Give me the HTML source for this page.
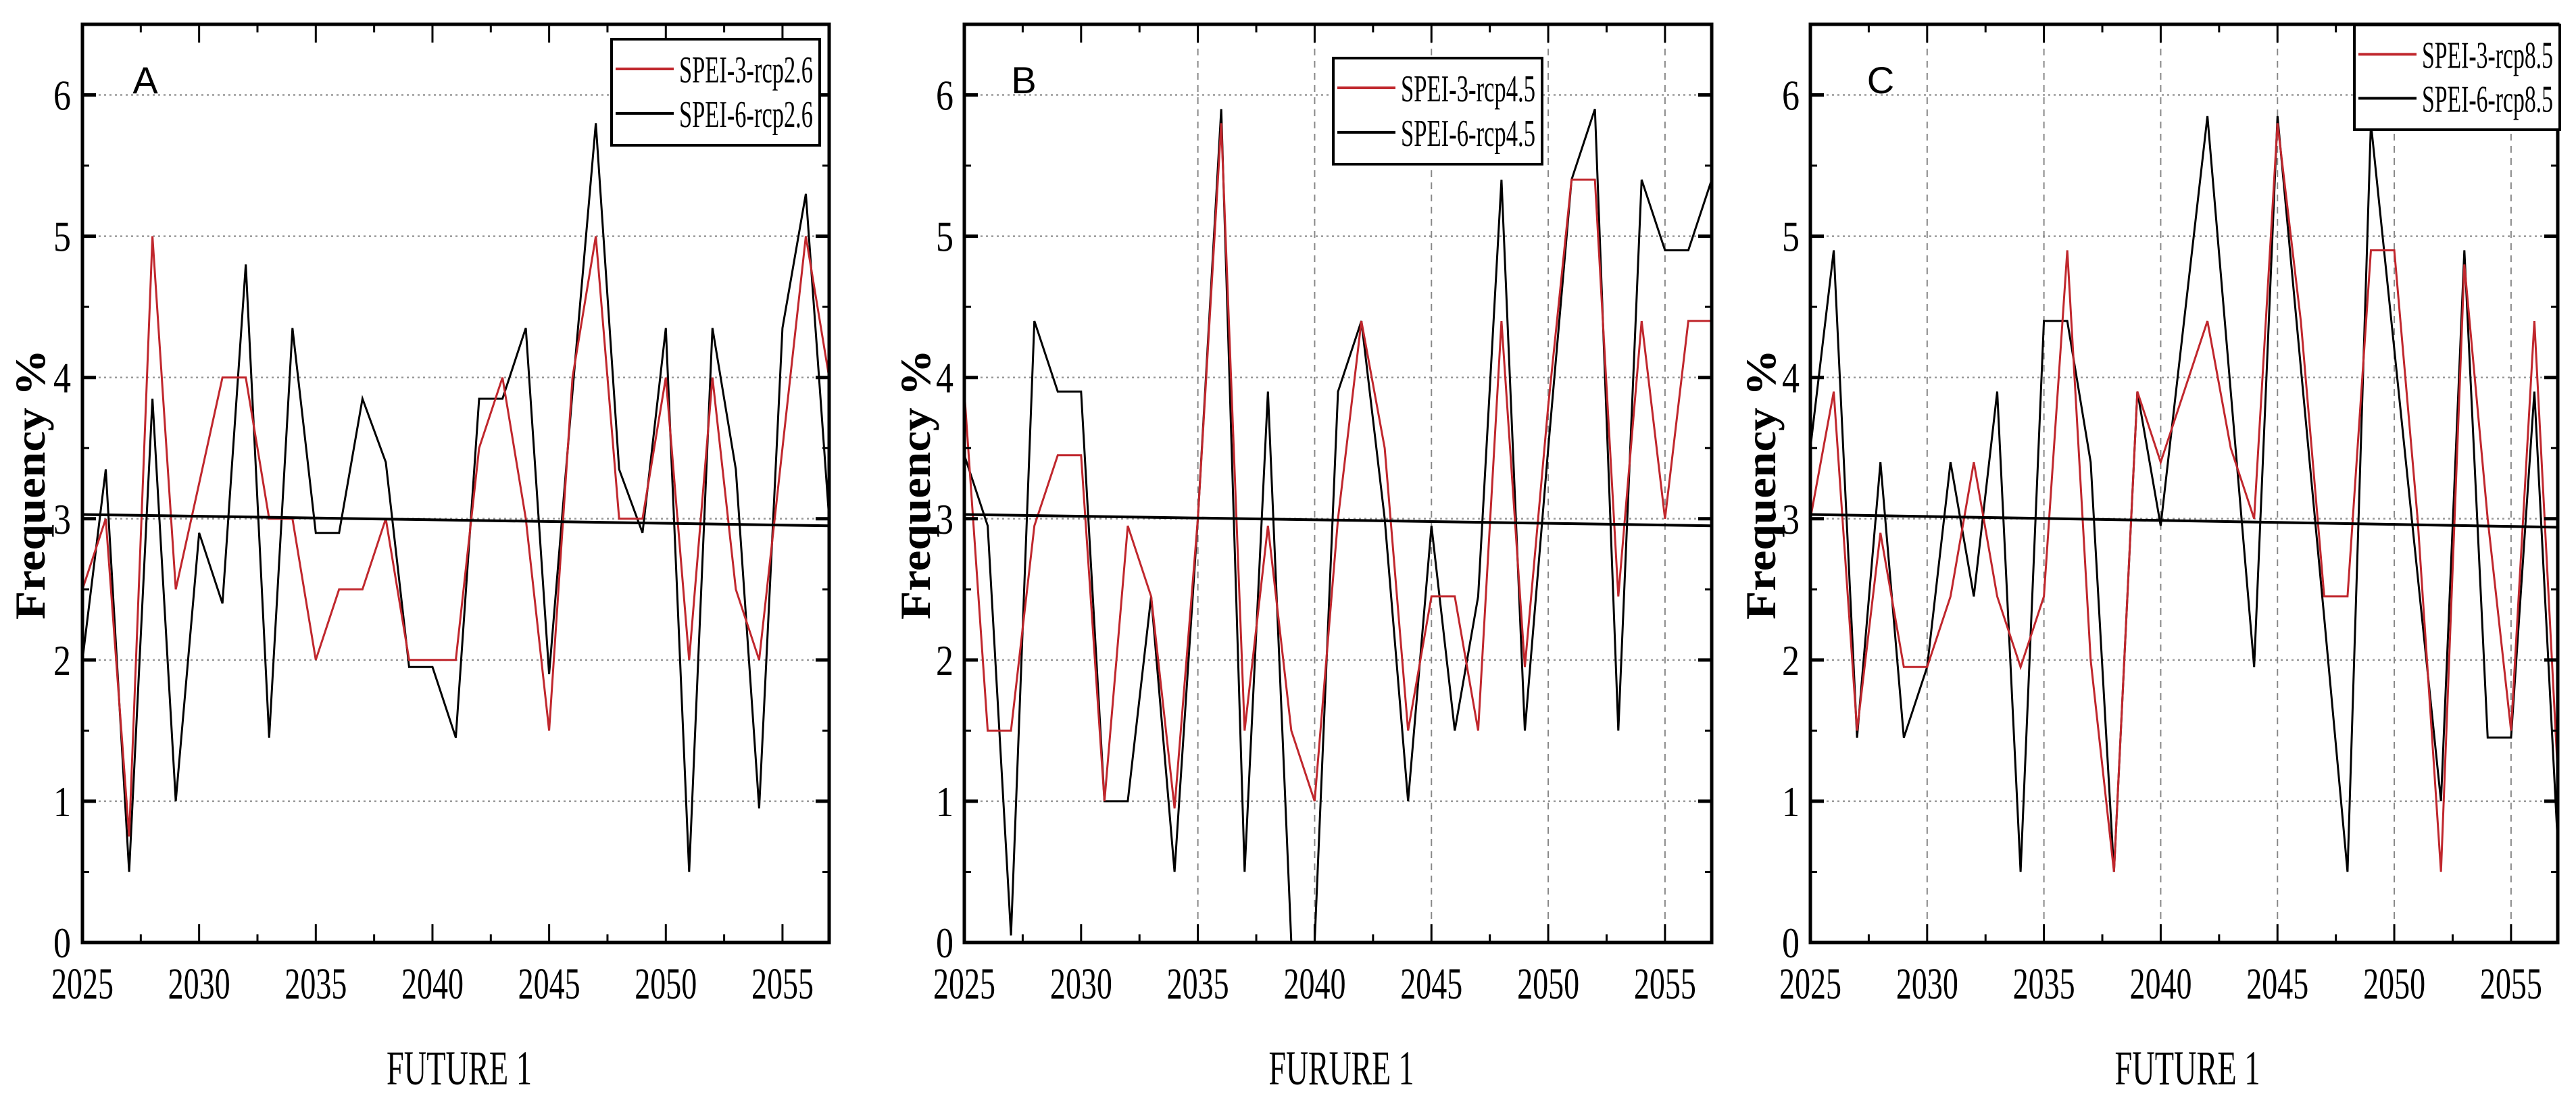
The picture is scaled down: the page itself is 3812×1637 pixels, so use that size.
<!DOCTYPE html>
<html><head><meta charset="utf-8">
<style>
html,body{margin:0;padding:0;background:#fff;}
svg{display:block;}
text{font-family:"Liberation Serif",serif;fill:#000;}
</style></head>
<body>
<svg id="chart" width="3812" height="1637" viewBox="0 0 3812 1637" xmlns="http://www.w3.org/2000/svg"></svg>
<script>
// ---- data ----
const years = [2025,2026,2027,2028,2029,2030,2031,2032,2033,2034,2035,2036,2037,2038,2039,2040,2041,2042,2043,2044,2045,2046,2047,2048,2049,2050,2051,2052,2053,2054,2055,2056,2057];
const xTicks = [2025,2030,2035,2040,2045,2050,2055];
const yTicks = [0,1,2,3,4,5,6];
const panelLetters = ["A","B","C"];
const xTitles = ["FUTURE 1","FURURE 1","FUTURE 1"];
const legend3 = ["SPEI-3-rcp2.6","SPEI-3-rcp4.5","SPEI-3-rcp8.5"];
const legend6 = ["SPEI-6-rcp2.6","SPEI-6-rcp4.5","SPEI-6-rcp8.5"];
const spei3A = [2.5,3.0,0.75,5.0,2.5,3.25,4.0,4.0,3.0,3.0,2.0,2.5,2.5,3.0,2.0,2.0,2.0,3.5,4.0,3.0,1.5,4.0,5.0,3.0,3.0,4.0,2.0,4.0,2.5,2.0,3.5,5.0,4.0];
const spei6A = [2.0,3.35,0.5,3.85,1.0,2.9,2.4,4.8,1.45,4.35,2.9,2.9,3.85,3.4,1.95,1.95,1.45,3.85,3.85,4.35,1.9,3.9,5.8,3.35,2.9,4.35,0.5,4.35,3.35,0.95,4.35,5.3,3.0];
const spei3B = [3.9,1.5,1.5,2.95,3.45,3.45,1.0,2.95,2.45,0.95,3.0,5.8,1.5,2.95,1.5,1.0,3.0,4.4,3.5,1.5,2.45,2.45,1.5,4.4,1.95,3.8,5.4,5.4,2.45,4.4,3.0,4.4,4.4];
const spei6B = [3.45,2.95,0.05,4.4,3.9,3.9,1.0,1.0,2.45,0.5,3.0,5.9,0.5,3.9,0.0,0.0,3.9,4.4,3.0,1.0,2.95,1.5,2.45,5.4,1.5,3.5,5.4,5.9,1.5,5.4,4.9,4.9,5.4];
const spei3C = [3.0,3.9,1.5,2.9,1.95,1.95,2.45,3.4,2.45,1.95,2.45,4.9,2.0,0.5,3.9,3.4,3.9,4.4,3.5,3.0,5.8,4.4,2.45,2.45,4.9,4.9,3.0,0.5,4.8,3.0,1.5,4.4,1.2];
const spei6C = [3.5,4.9,1.45,3.4,1.45,1.95,3.4,2.45,3.9,0.5,4.4,4.4,3.4,0.5,3.9,2.95,4.4,5.85,3.9,1.95,5.85,4.07,2.3,0.5,5.8,4.2,2.6,1.0,4.9,1.45,1.45,3.9,0.7];
const trendStart = [3.03,3.03,3.03];
const trendEnd = [2.95,2.95,2.94];

const NS="http://www.w3.org/2000/svg";
const svg=document.getElementById('chart');
function mk(tag,attrs,parent){const e=document.createElementNS(NS,tag);for(const k in attrs)e.setAttribute(k,attrs[k]);(parent||svg).appendChild(e);return e;}

const panels=[
 {L:122,R:1227,s3:spei3A,s6:spei6A,vgrid:[],legend:[905,58,1213,215],letterX:215,ylabX:44,ytickX:92},
 {L:1427,R:2533,s3:spei3B,s6:spei6B,vgrid:[2035,2040,2045,2050,2055],legend:[1973,86,2282,243],letterX:1515,ylabX:1354,ytickX:1398},
 {L:2679,R:3785,s3:spei3C,s6:spei6C,vgrid:[2030,2035,2040,2045,2050,2055],legend:[3484,37,3788,192],letterX:2783,ylabX:2605,ytickX:2650}
];
const T=36,B=1395,yMax=6.5,xMin=2025,xMax=2057;

panels.forEach((p,pi)=>{
 const g=mk('g',{});
 
 
 const xs=v=>p.L+(v-xMin)/(xMax-xMin)*(p.R-p.L);
 const ys=v=>B-v/yMax*(B-T);
 // horizontal grid
 for(let v=1;v<=6;v++){
  const l=mk('line',{x1:p.L,x2:p.R,y1:ys(v),y2:ys(v),stroke:'#999','stroke-width':2.5,'stroke-dasharray':'3 5'},g);
  
  
 }
 p.vgrid.forEach(v=>{
  const l=mk('line',{x1:xs(v),x2:xs(v),y1:T,y2:B,stroke:'#888','stroke-width':2,'stroke-dasharray':'10 8'},g);
  
  
 });
 // series
 const path=arr=>arr.map((v,i)=>(i?'L':'M')+xs(years[i]).toFixed(1)+' '+ys(v).toFixed(1)).join(' ');
 const s6=mk('path',{d:path(p.s6),fill:'none',stroke:'#000','stroke-width':3,'stroke-linejoin':'miter'},g);
 
 
 const s3=mk('path',{d:path(p.s3),fill:'none',stroke:'#c0272d','stroke-width':3,'stroke-linejoin':'miter'},g);
 
 
 const tr=mk('line',{x1:p.L,x2:p.R,y1:ys(trendStart[pi]),y2:ys(trendEnd[pi]),stroke:'#000','stroke-width':4},g);
 
 
 // axes frame
 const fr=mk('rect',{x:p.L,y:T,width:p.R-p.L,height:B-T,fill:'none',stroke:'#000','stroke-width':5},g);
 
 
 // x ticks
 for(let v=2025;v<=2057;v+=2.5){
  const major=(v%5===0);const len=major?27:12;
  if(v>2025&&v<2057){
   mk('line',{x1:xs(v),x2:xs(v),y1:B,y2:B-len,stroke:'#000','stroke-width':3},g);
   mk('line',{x1:xs(v),x2:xs(v),y1:T,y2:T+len,stroke:'#000','stroke-width':3},g);
  }
 }
 xTicks.forEach(v=>{
  const t=mk('text',{x:xs(v),y:1478,'text-anchor':'middle','font-size':66,textLength:92,lengthAdjust:'spacingAndGlyphs'},g);
  t.textContent=v;
  
  
 });
 // y ticks
 for(let v=0.5;v<6.5;v+=0.5){
  const major=Number.isInteger(v);const len=major?20:10;
  mk('line',{x1:p.L,x2:p.L+len,y1:ys(v),y2:ys(v),stroke:'#000','stroke-width':major?5:3},g);
  mk('line',{x1:p.R,x2:p.R-len,y1:ys(v),y2:ys(v),stroke:'#000','stroke-width':major?5:3},g);
 }
 yTicks.forEach(v=>{
  const t=mk('text',{x:p.ytickX,y:ys(v)+22,'text-anchor':'middle','font-size':64,textLength:26,lengthAdjust:'spacingAndGlyphs'},g);
  t.textContent=v;
  
  
 });
 // y title
 const yt=mk('text',{x:0,y:0,'text-anchor':'middle','font-size':64,'font-weight':'bold',textLength:400,lengthAdjust:'spacingAndGlyphs',transform:`translate(${p.ylabX+22},717) rotate(-90)`},g);
 yt.textContent='Frequency %';
 
 
 // x title
 const xt=mk('text',{x:(p.L+p.R)/2+5,y:1605,'text-anchor':'middle','font-size':72,textLength:215,lengthAdjust:'spacingAndGlyphs'},g);
 xt.textContent=xTitles[pi];
 
 
 // panel letter
 const pl=mk('text',{x:p.letterX,y:138,'text-anchor':'middle','font-size':56,style:'font-family:"Liberation Sans",sans-serif'},g);
 pl.textContent=panelLetters[pi];
 
 
 // legend
 const [lx1,ly1,lx2,ly2]=p.legend;
 const lg=mk('g',{},g);
 
 
 mk('rect',{x:lx1,y:ly1,width:lx2-lx1,height:ly2-ly1,fill:'#fff',stroke:'#000','stroke-width':4},lg);
 const h=ly2-ly1;
 [[legend3[pi],'#c0272d',ly1+h*0.28],[legend6[pi],'#000',ly1+h*0.7]].forEach(([lab,col,cy])=>{
  const e=mk('g',{},lg);
  
  
  mk('line',{x1:lx1+6,x2:lx1+92,y1:cy,y2:cy,stroke:col,'stroke-width':4},e);
  const t=mk('text',{x:lx1+100,y:cy+20,'font-size':56,textLength:lx2-lx1-110,lengthAdjust:'spacingAndGlyphs'},e);
  t.textContent=lab;
 });
});
</script>
</body></html>
